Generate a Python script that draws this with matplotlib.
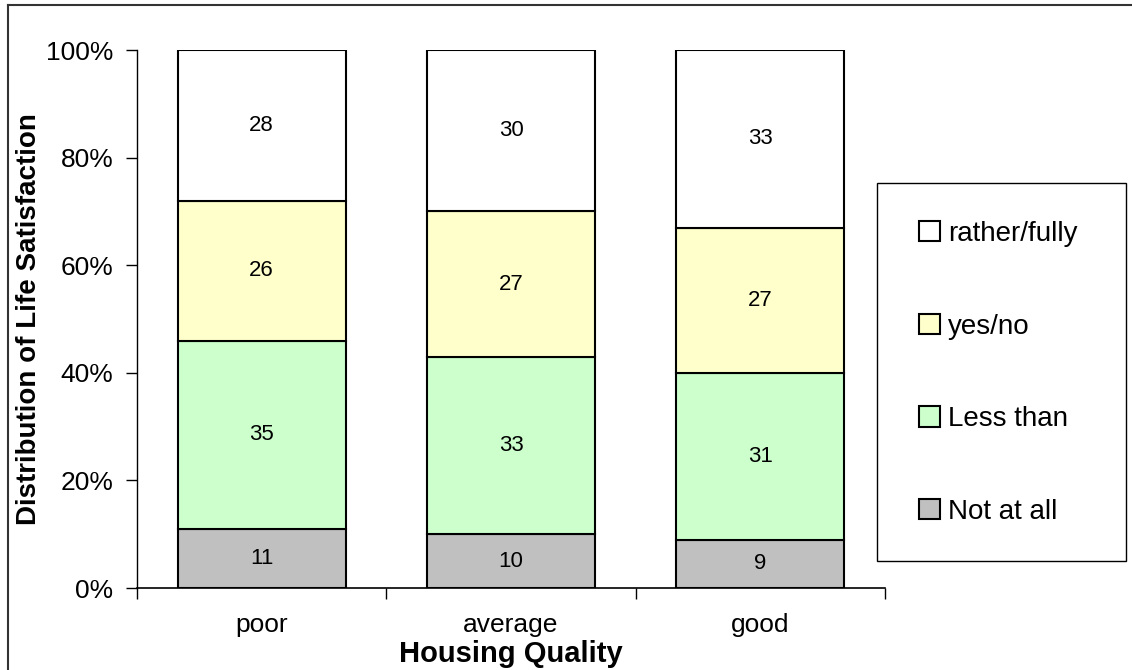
import numpy as np
import matplotlib.pyplot as plt
from matplotlib.lines import Line2D
from matplotlib.patches import Patch, Rectangle
from matplotlib.ticker import FixedLocator, PercentFormatter

plt.rcParams['font.family'] = ['Liberation Sans', 'DejaVu Sans']

categories = ['poor', 'average', 'good']
series = ['Not at all', 'Less than', 'yes/no', 'rather/fully']
not_at_all = [11, 10, 9]
less_than = [35, 33, 31]
yes_no = [26, 27, 27]
rather_fully = [28, 30, 33]
colors = ['#c0c0c0', '#ccffcc', '#ffffcc', '#ffffff']

values = [not_at_all, less_than, yes_no, rather_fully]

W, H = 1132, 670
fig = plt.figure(figsize=(W / 100, H / 100), dpi=100)
ax = fig.add_axes([137 / W, 1 - 588 / H, 748 / W, 538 / H])

x = np.arange(len(categories))
bottom = np.zeros(len(categories))
for name, vals, col in zip(series, values, colors):
    vals = np.array(vals, dtype=float)
    ax.bar(x, vals, 0.675, bottom=bottom, color=col, edgecolor='black',
           linewidth=1.5, label=name, zorder=2)
    for xi, b, v in zip(x, bottom, vals):
        ax.text(xi, b + v / 2, f'{v:.0f}', ha='center', va='center', fontsize=16)
    bottom += vals

ax.set_xlim(-0.5, 2.5)
ax.set_ylim(0, 100)
ax.yaxis.set_major_locator(FixedLocator([0, 20, 40, 60, 80, 100]))
ax.yaxis.set_major_formatter(PercentFormatter(decimals=0))
ax.set_xticks(x)
ax.set_xticklabels(categories)
ax.set_xticks([-0.5, 0.5, 1.5, 2.5], minor=True)
ax.tick_params(axis='x', which='major', length=0, pad=18, labelsize=19)
ax.tick_params(axis='x', which='minor', length=8, width=1)
ax.tick_params(axis='y', length=8, width=1, labelsize=19, pad=9)
for side in ['top', 'right']:
    ax.spines[side].set_visible(False)
ax.spines['left'].set_linewidth(1)
ax.spines['bottom'].set_linewidth(1.2)

ax.set_xlabel('Housing Quality', fontsize=21, fontweight='bold', labelpad=2)
ax.set_ylabel('Distribution of Life Satisfaction', fontsize=20,
              fontweight='bold', labelpad=3)

# legend box drawn separately so it keeps its fixed size
fig.add_artist(Rectangle((877 / W, 1 - 561 / H), 249 / W, 378 / H,
                         transform=fig.transFigure, facecolor='white',
                         edgecolor='black', linewidth=1))
handles = [Patch(facecolor=c, edgecolor='black', linewidth=1.5)
           for c in colors[::-1]]
leg = fig.legend(handles, series[::-1], loc='upper left',
                 bbox_to_anchor=(919 / W, 1 - 221 / H),
                 fontsize=20, frameon=False,
                 handlelength=0.75, handleheight=0.75, handletextpad=0.3,
                 labelspacing=2.4, borderpad=0, borderaxespad=0)
leg.set_zorder(5)

# outer chart border (left and top edges)
fig.add_artist(Line2D([8 / W, 8 / W], [0, 1 - 5 / H],
                      color='#333333', linewidth=1.5))
fig.add_artist(Line2D([8 / W, 1], [1 - 5 / H, 1 - 5 / H],
                      color='#333333', linewidth=1.5))

fig.savefig('out.png', dpi=100)
